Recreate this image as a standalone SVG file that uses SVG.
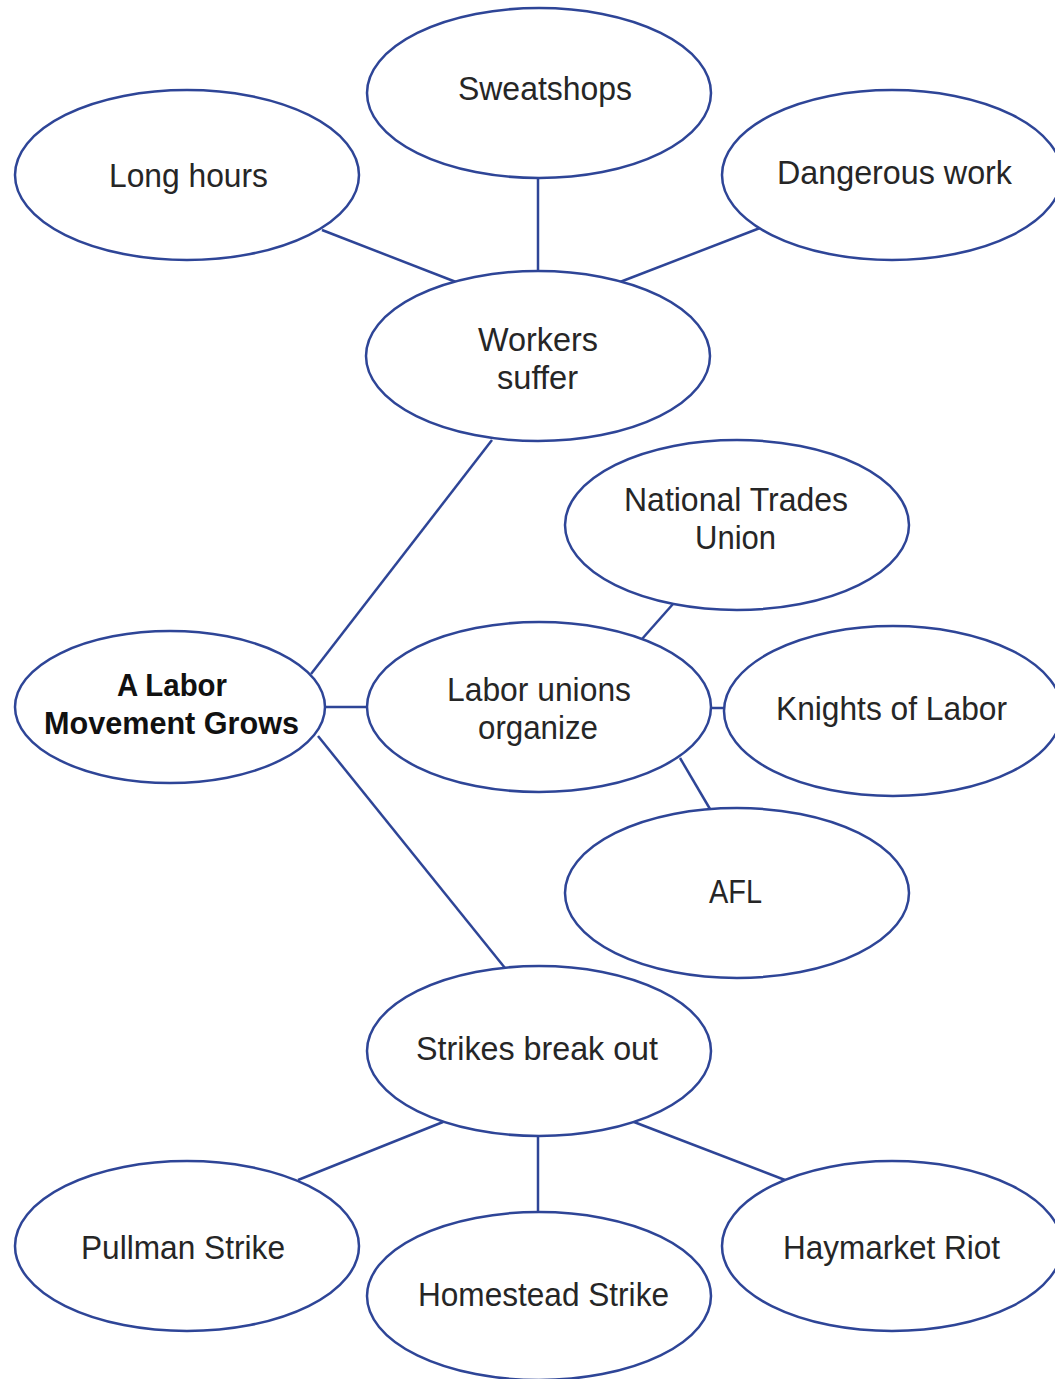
<svg xmlns="http://www.w3.org/2000/svg" width="1055" height="1379" viewBox="0 0 1055 1379">
  <style>
    .node ellipse { fill: #ffffff; stroke: #2e4597; stroke-width: 2.5; }
    .node text { font-family: "Liberation Sans Narrow", "Liberation Sans", Arial, sans-serif; font-size: 34px; fill: #262626; text-anchor: middle; }
    .node text.title { font-weight: bold; font-size: 31px; fill: #111111; }
    #connectors line { stroke: #2e4597; stroke-width: 2.5; }
  </style>
  <rect width="1055" height="1379" fill="#ffffff"/>

  <g id="connectors">
    <line x1="322" y1="230" x2="456" y2="282"/>
    <line x1="538" y1="178" x2="538" y2="272"/>
    <line x1="760" y1="228" x2="620" y2="282"/>
    <line x1="492" y1="440" x2="311" y2="674"/>
    <line x1="326" y1="707" x2="366" y2="707"/>
    <line x1="318" y1="736" x2="505" y2="968"/>
    <line x1="642" y1="639" x2="673" y2="604"/>
    <line x1="711" y1="708" x2="724" y2="708"/>
    <line x1="680" y1="758" x2="710" y2="809"/>
    <line x1="443" y1="1122" x2="298" y2="1180"/>
    <line x1="538" y1="1136" x2="538" y2="1212"/>
    <line x1="634" y1="1122" x2="785" y2="1180"/>
  </g>

  <g id="sweatshops" class="node">
    <ellipse cx="539" cy="93" rx="172" ry="85"/>
    <text x="545" y="100" textLength="174" lengthAdjust="spacingAndGlyphs">Sweatshops</text>
  </g>
  <g id="long-hours" class="node">
    <ellipse cx="187" cy="175" rx="172" ry="85"/>
    <text x="188.5" y="187" textLength="159" lengthAdjust="spacingAndGlyphs">Long hours</text>
  </g>
  <g id="dangerous-work" class="node">
    <ellipse cx="892" cy="175" rx="170" ry="85"/>
    <text x="894.5" y="184" textLength="235" lengthAdjust="spacingAndGlyphs">Dangerous work</text>
  </g>
  <g id="workers-suffer" class="node">
    <ellipse cx="538" cy="356" rx="172" ry="85"/>
    <text x="538" y="351" textLength="120" lengthAdjust="spacingAndGlyphs">Workers</text>
    <text x="537.5" y="389" textLength="81" lengthAdjust="spacingAndGlyphs">suffer</text>
  </g>
  <g id="national-trades-union" class="node">
    <ellipse cx="737" cy="525" rx="172" ry="85"/>
    <text x="736" y="511" textLength="224" lengthAdjust="spacingAndGlyphs">National Trades</text>
    <text x="735.5" y="549" textLength="81" lengthAdjust="spacingAndGlyphs">Union</text>
  </g>
  <g id="labor-movement" class="node">
    <ellipse cx="170" cy="707" rx="155" ry="76"/>
    <text class="title" x="172" y="696" textLength="110" lengthAdjust="spacingAndGlyphs">A Labor</text>
    <text class="title" x="171.5" y="734" textLength="255" lengthAdjust="spacingAndGlyphs">Movement Grows</text>
  </g>
  <g id="labor-unions" class="node">
    <ellipse cx="539" cy="707" rx="172" ry="85"/>
    <text x="539" y="701" textLength="184" lengthAdjust="spacingAndGlyphs">Labor unions</text>
    <text x="538" y="739" textLength="120" lengthAdjust="spacingAndGlyphs">organize</text>
  </g>
  <g id="knights-of-labor" class="node">
    <ellipse cx="893" cy="711" rx="169" ry="85"/>
    <text x="891.5" y="720" textLength="231" lengthAdjust="spacingAndGlyphs">Knights of Labor</text>
  </g>
  <g id="afl" class="node">
    <ellipse cx="737" cy="893" rx="172" ry="85"/>
    <text x="735.5" y="903" textLength="53" lengthAdjust="spacingAndGlyphs">AFL</text>
  </g>
  <g id="strikes" class="node">
    <ellipse cx="539" cy="1051" rx="172" ry="85"/>
    <text x="537" y="1060" textLength="242" lengthAdjust="spacingAndGlyphs">Strikes break out</text>
  </g>
  <g id="pullman" class="node">
    <ellipse cx="187" cy="1246" rx="172" ry="85"/>
    <text x="183" y="1259" textLength="204" lengthAdjust="spacingAndGlyphs">Pullman Strike</text>
  </g>
  <g id="homestead" class="node">
    <ellipse cx="539" cy="1296" rx="172" ry="84"/>
    <text x="543.5" y="1306" textLength="251" lengthAdjust="spacingAndGlyphs">Homestead Strike</text>
  </g>
  <g id="haymarket" class="node">
    <ellipse cx="892" cy="1246" rx="170" ry="85"/>
    <text x="891.5" y="1259" textLength="217" lengthAdjust="spacingAndGlyphs">Haymarket Riot</text>
  </g>
</svg>
